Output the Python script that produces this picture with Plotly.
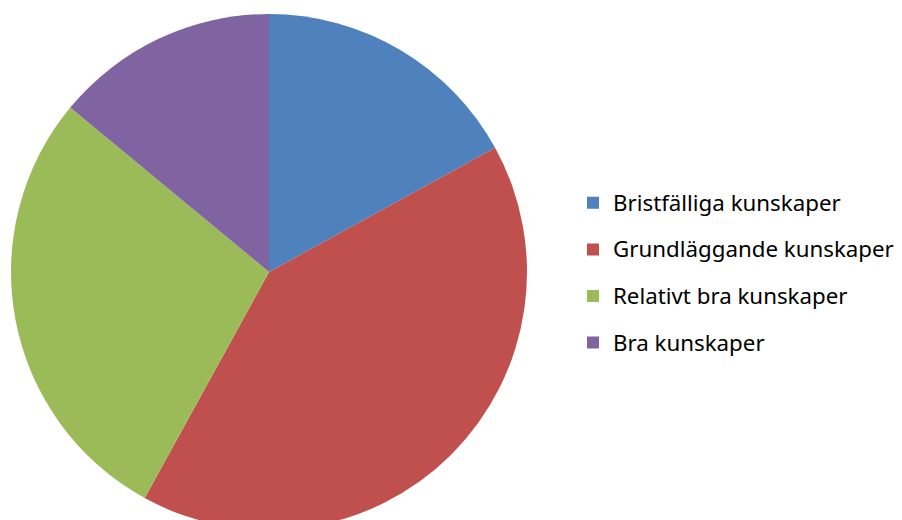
import plotly.graph_objects as go

# Kunskapsnivå – andelar i procent
labels = [
    "Bristfälliga kunskaper",
    "Grundläggande kunskaper",
    "Relativt bra kunskaper",
    "Bra kunskaper",
]
values = [17, 41, 28, 14]
colors = ["#4F81BD", "#C0504D", "#9BBB59", "#8064A2"]

# radavståndet i förklaringen styrs av legend-fontens storlek,
# själva texten görs mindre med en span
legend_labels = [
    f"<span style='font-size:22.3px;baseline-shift:5px'>{t}</span>" for t in labels
]

fig = go.Figure(go.Pie(
    labels=legend_labels,
    values=values,
    marker=dict(colors=colors, line=dict(width=0)),
    sort=False,
    direction="clockwise",
    rotation=0,
    textinfo="none",
    hoverinfo="label+percent",
    domain=dict(x=[3 / 902, 519 / 902], y=[0, 1]),
))

fig.update_layout(
    width=902,
    height=528,
    margin=dict(l=0, r=0, t=0, b=0),
    paper_bgcolor="white",
    plot_bgcolor="white",
    font=dict(family="Noto Sans, sans-serif", color="#000000"),
    legend=dict(
        x=565 / 902,
        xanchor="left",
        y=0.498,
        yanchor="middle",
        font=dict(size=33.5, family="Noto Sans, sans-serif", color="#000000"),
        bgcolor="rgba(0,0,0,0)",
    ),
    showlegend=True,
)

fig.write_html("out.html")
